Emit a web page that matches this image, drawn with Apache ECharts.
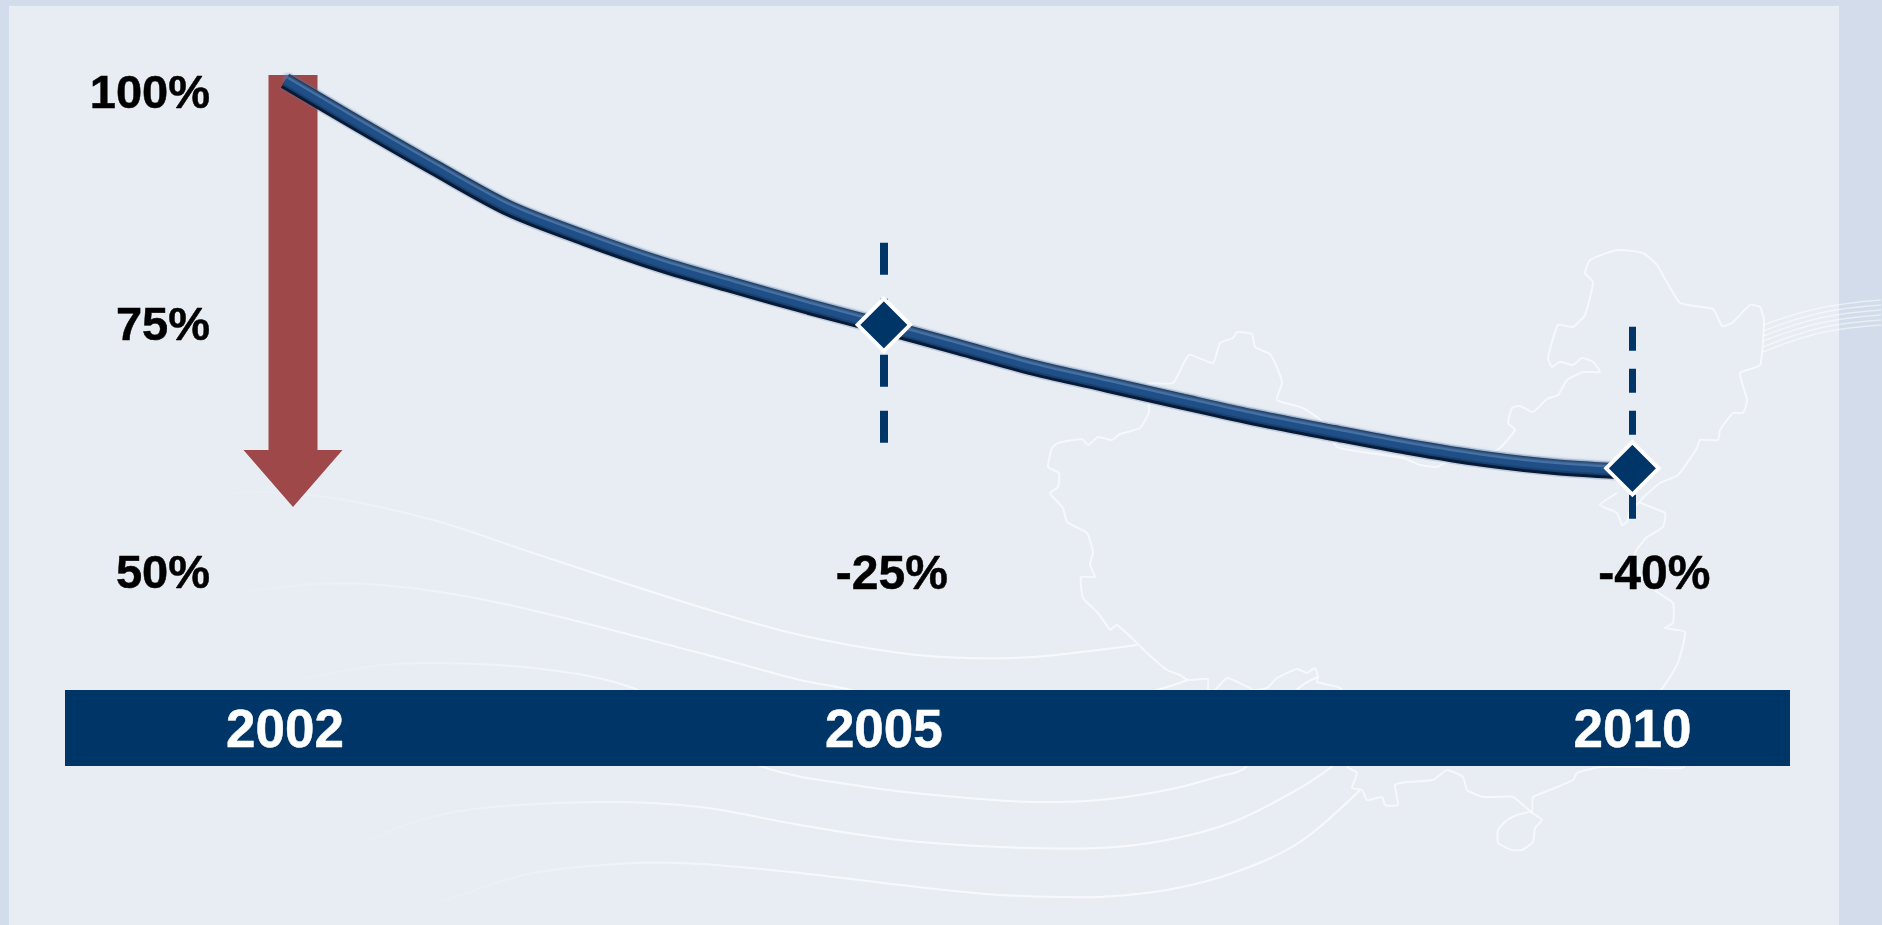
<!DOCTYPE html>
<html>
<head>
<meta charset="utf-8">
<style>html,body{margin:0;padding:0;background:#d2dcea}#c{width:1882px;height:925px}</style>
<script src="https://cdn.jsdelivr.net/npm/echarts@6/dist/echarts.min.js"></script>
</head>
<body>
<div id="c"></div>
<script>
// ---- chart data ----
var categories = ['2002', '', '', '', '', '', '', '', '2005', '', '', '', '', '', '', '', '', '', '2010'];
var indexValues = [100, 95.49, 91.09, 86.89, 83.91, 81.25, 79.0, 76.84, 74.8, 72.7, 70.6, 68.85, 67.11, 65.42, 63.93, 62.5, 61.27, 60.4, 59.94];
var yTicks = [100, 75, 50];
var targetIndex = [8, 18];
var targetValues = [75, 60.3];
var targetLabels = ['-25%', '-40%'];
var dashRanges = [[83.4, 62.9], [74.8, 55.1]];
var arrowRange = [100.6, 56.35];

// ---- decorative background art (screen pixels), not data ----
var mapOutline = [[1110,630],[1098,613],[1083,598],[1081,577],[1095,577],[1090,565],[1093,552],[1087,533],[1067,522],[1063,508],[1050,493],[1058,487],[1059,473],[1048,467],[1052,448],[1058,443],[1082,439],[1088,445],[1098,437],[1112,440],[1120,434],[1140,428],[1149,412],[1148,384],[1173,383],[1189,355],[1213,363],[1220,343],[1233,338],[1237,332],[1252,334],[1255,347],[1270,354],[1278,370],[1282,383],[1277,400],[1303,408],[1323,422],[1337,447],[1370,453],[1403,458],[1420,465],[1437,467],[1447,462],[1497,450],[1515,430],[1508,423],[1512,408],[1520,406],[1533,412],[1547,399],[1558,395],[1567,380],[1583,372],[1600,372],[1593,362],[1582,358],[1573,365],[1560,362],[1552,367],[1548,358],[1558,325],[1573,327],[1585,315],[1593,282],[1585,273],[1590,260],[1617,250],[1643,253],[1657,265],[1680,303],[1713,309],[1722,326],[1732,323],[1750,305],[1760,307],[1764,320],[1760,365],[1740,373],[1747,400],[1743,413],[1733,413],[1720,430],[1718,440],[1700,440],[1697,448],[1678,475],[1660,483],[1640,502],[1665,513],[1663,527],[1647,537],[1635,553],[1640,575],[1657,592],[1673,603],[1673,623],[1665,628],[1685,632],[1678,663],[1668,680],[1655,700],[1660,720],[1684,767],[1640,767],[1600,767],[1577,773],[1573,780],[1550,790],[1533,797],[1532,812],[1513,797],[1483,797],[1467,790],[1463,777],[1447,770],[1433,780],[1407,782],[1395,785],[1398,805],[1385,805],[1382,797],[1367,800],[1362,790],[1352,788],[1357,773],[1348,767],[1342,690],[1338,687],[1317,682],[1318,677],[1315,668],[1307,673],[1297,669],[1277,678],[1267,688],[1253,690],[1248,687],[1227,678],[1215,690],[1208,690],[1208,679],[1188,680],[1180,675],[1167,670],[1147,653],[1137,643],[1117,625],[1110,630]];
var bayOutline = [[1617,493],[1600,505],[1617,513],[1622,525],[1627,522],[1630,510],[1640,502]];
var hainanOutline = [[1517,815],[1507,820],[1498,830],[1498,843],[1512,850],[1522,850],[1533,842],[1535,828],[1542,820],[1530,812],[1517,815]];
var swooshes = [
  [[207,495],[267,492],[333,498],[433,520],[533,553],[700,607],[800,635],[900,653],[967,658],[1033,657],[1137,645]],
  [[217,597],[300,585],[383,585],[500,603],[700,653],[800,680],[847,689],[1000,730],[1157,690],[1188,680]],
  [[267,687],[367,667],[433,663],[533,668],[633,688],[700,730],[760,766],[867,787],[967,798],[1033,802],[1100,800],[1167,790],[1217,777],[1247,766],[1297,690],[1318,677]],
  [[333,858],[400,827],[467,810],[600,802],[700,807],[800,825],[900,840],[1000,847],[1100,848],[1167,840],[1233,822],[1300,788],[1333,766]],
  [[400,917],[467,893],[533,873],[633,863],[700,864],[800,873],[900,885],[1000,895],[1067,897],[1100,897],[1167,890],[1233,873],[1300,842],[1360,790]]
];
var feather = [
  [[1763,325],[1820,308],[1881,300]],
  [[1763,331],[1820,313],[1881,305]],
  [[1763,336],[1820,318],[1881,310]],
  [[1763,341],[1820,323],[1881,315]],
  [[1763,347],[1820,328],[1881,320]],
  [[1763,352],[1820,333],[1881,325]]
];

var FONT = '"Liberation Sans", Arial, sans-serif';
var NAVY = '#003568';
var chart = echarts.init(document.getElementById('c'), null, {renderer: 'canvas'});

function outline(points) {
  return {type: 'polyline', z: 1, shape: {points: points, smooth: 0.15},
    style: {stroke: 'rgba(255,255,255,0.62)', lineWidth: 2, fill: null, lineJoin: 'round'}};
}
function swoosh(points) {
  var x0 = points[0][0];
  return {type: 'polyline', z: 1, shape: {points: points, smooth: 0.35},
    style: {fill: null, lineWidth: 2,
      stroke: new echarts.graphic.LinearGradient(x0, 0, x0 + 420, 0, [
        {offset: 0, color: 'rgba(255,255,255,0)'},
        {offset: 1, color: 'rgba(255,255,255,0.68)'}
      ], true)}};
}
var art = [
  {type: 'rect', z: 0, shape: {x: 9, y: 6, width: 1830, height: 919}, style: {fill: '#e8edf4'}}
];
swooshes.forEach(function (s) { art.push(swoosh(s)); });
art.push(outline(mapOutline), outline(bayOutline), outline(hainanOutline));
feather.forEach(function (f) {
  art.push({type: 'polyline', z: 1, shape: {points: f, smooth: 0.4},
    style: {fill: null, lineWidth: 1.5, stroke: 'rgba(255,255,255,0.5)'}});
});
art.push({type: 'rect', z: 1, shape: {x: 65, y: 690, width: 1725, height: 76}, style: {fill: NAVY}});

var tokenFor = {100: 'top', 75: 'mid', 50: 'low'};
function yRich(pad) {
  return {fontSize: 47, fontWeight: 'bold', fontFamily: FONT, color: '#000',
    textBorderColor: '#000', textBorderWidth: 0.5, padding: [pad, 0, 0, 0]};
}
function tube(color, width, extra) {
  return Object.assign({
    type: 'line', z: 3, data: indexValues, smooth: 0.3, showSymbol: false, silent: true,
    lineStyle: {color: color, width: width}
  }, extra || {});
}

var option = {
  animation: false,
  backgroundColor: '#d2dcea',
  graphic: art,
  grid: {left: 285, top: 75, width: 1347.4, height: 493.86, containLabel: false},
  xAxis: {
    type: 'category', data: categories, boundaryGap: false, z: 10,
    axisLine: {show: false}, axisTick: {show: false}, splitLine: {show: false},
    axisLabel: {interval: 0, margin: 164, verticalAlign: 'middle',
      fontSize: 53, fontWeight: 'bold', fontFamily: FONT, color: '#fff',
      textBorderColor: '#fff', textBorderWidth: 0.5}
  },
  yAxis: {
    type: 'value', min: 50, max: 100.6, z: 10,
    axisLine: {show: false}, axisTick: {show: false}, splitLine: {show: false},
    axisLabel: {
      customValues: yTicks, margin: 75, verticalAlign: 'middle',
      formatter: function (v) { return '{' + tokenFor[v] + '|' + v + '%}'; },
      rich: {top: yRich(28), mid: yRich(5), low: yRich(12)}
    }
  },
  series: [
    {
      type: 'custom', z: 2, silent: true, clip: false,
      data: [[0, arrowRange[0], arrowRange[1]]],
      renderItem: function (params, api) {
        var top = api.coord([api.value(0), api.value(1)]);
        var tip = api.coord([api.value(0), api.value(2)]);
        var cx = top[0] + 8, neck = tip[1] - 57;
        return {type: 'polygon',
          shape: {points: [[cx - 24.5, top[1]], [cx + 24.5, top[1]], [cx + 24.5, neck], [cx + 49.5, neck], [cx, tip[1]], [cx - 49.5, neck], [cx - 24.5, neck]]},
          style: {fill: '#9e484a'}};
      }
    },
    tube('rgba(90,125,170,0.28)', 19),
    tube('#081a36', 16, {
      markLine: {
        silent: true, symbol: 'none', z: 4, animation: false, label: {show: false},
        data: [
          [{coord: [targetIndex[0], dashRanges[0][0]], lineStyle: {type: [32, 24], width: 8, color: NAVY, opacity: 1}},
           {coord: [targetIndex[0], dashRanges[0][1]]}],
          [{coord: [targetIndex[1], dashRanges[1][0]], lineStyle: {type: [24, 18], width: 7, color: NAVY, opacity: 1}},
           {coord: [targetIndex[1], dashRanges[1][1]]}]
        ]
      }
    }),
    tube('#15406f', 10),
    Object.assign(tube('#1f4f86', 6), {
      lineStyle: {color: '#1f4f86', width: 6, shadowColor: '#4f7cb0', shadowBlur: 4, shadowOffsetY: -4}
    }),
    {
      type: 'scatter', z: 6, clip: false, silent: true, symbol: 'diamond', symbolSize: 52.5,
      data: targetIndex.map(function (x, i) { return [x, targetValues[i]]; }),
      itemStyle: {color: NAVY, borderColor: '#fff', borderWidth: 3.9, opacity: 1}
    },
    {
      type: 'scatter', z: 7, clip: false, silent: true, symbolSize: 0,
      itemStyle: {opacity: 1},
      data: targetIndex.map(function (x, i) {
        return {value: [x, yTicks[2]], name: targetLabels[i],
          label: {offset: [i === 0 ? 8 : 22, 7]}};
      }),
      label: {show: true, position: 'inside', formatter: '{b}', fontSize: 48, fontWeight: 'bold',
        fontFamily: FONT, color: '#000', textBorderColor: '#000', textBorderWidth: 0.5}
    }
  ]
};
chart.setOption(option);
</script>
</body>
</html>
